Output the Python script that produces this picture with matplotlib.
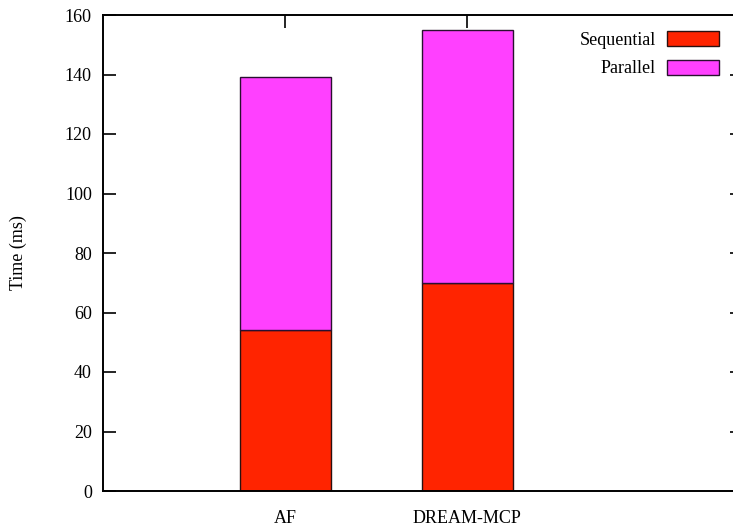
import matplotlib.pyplot as plt
import numpy as np

# Execution time split into sequential and parallel parts
methods = ['AF', 'DREAM-MCP']
sequential = [54, 70]
parallel = [85, 85]

plt.rcParams['font.family'] = ['Liberation Serif', 'DejaVu Serif']
plt.rcParams['font.size'] = 13

fig = plt.figure(figsize=(7.33, 5.31), dpi=100)
ax = fig.add_axes([103 / 733, 40 / 531, 639 / 733, 476 / 531])

x = np.arange(len(methods))
ax.bar(x, sequential, width=0.5, color='#ff2400', edgecolor='#2a1010',
       linewidth=1.0, label='Sequential')
ax.bar(x, parallel, width=0.5, bottom=sequential, color='#ff40ff',
       edgecolor='#2a1030', linewidth=1.0, label='Parallel')

ax.set_xlim(-1, 2.51)
ax.set_ylim(0, 160)
ax.set_yticks(np.arange(0, 161, 20))
ax.set_xticks(x)
ax.set_xticklabels(methods)
ax.set_ylabel('Time (ms)', labelpad=27)

for s in ax.spines.values():
    s.set_linewidth(1.4)
ax.tick_params(axis='y', direction='in', length=9, width=1.2, right=True, pad=8)
ax.tick_params(axis='x', direction='in', length=9, width=1.2, top=True,
               bottom=False, pad=14)

ax.legend(loc='upper right', bbox_to_anchor=(719 / 733, 1 - 31 / 531),
          bbox_transform=fig.transFigure, frameon=False, markerfirst=False,
          handlelength=2.9, handleheight=0.9, handletextpad=0.6,
          labelspacing=0.6, borderpad=0, borderaxespad=0)

fig.savefig('out.png', dpi=100)
